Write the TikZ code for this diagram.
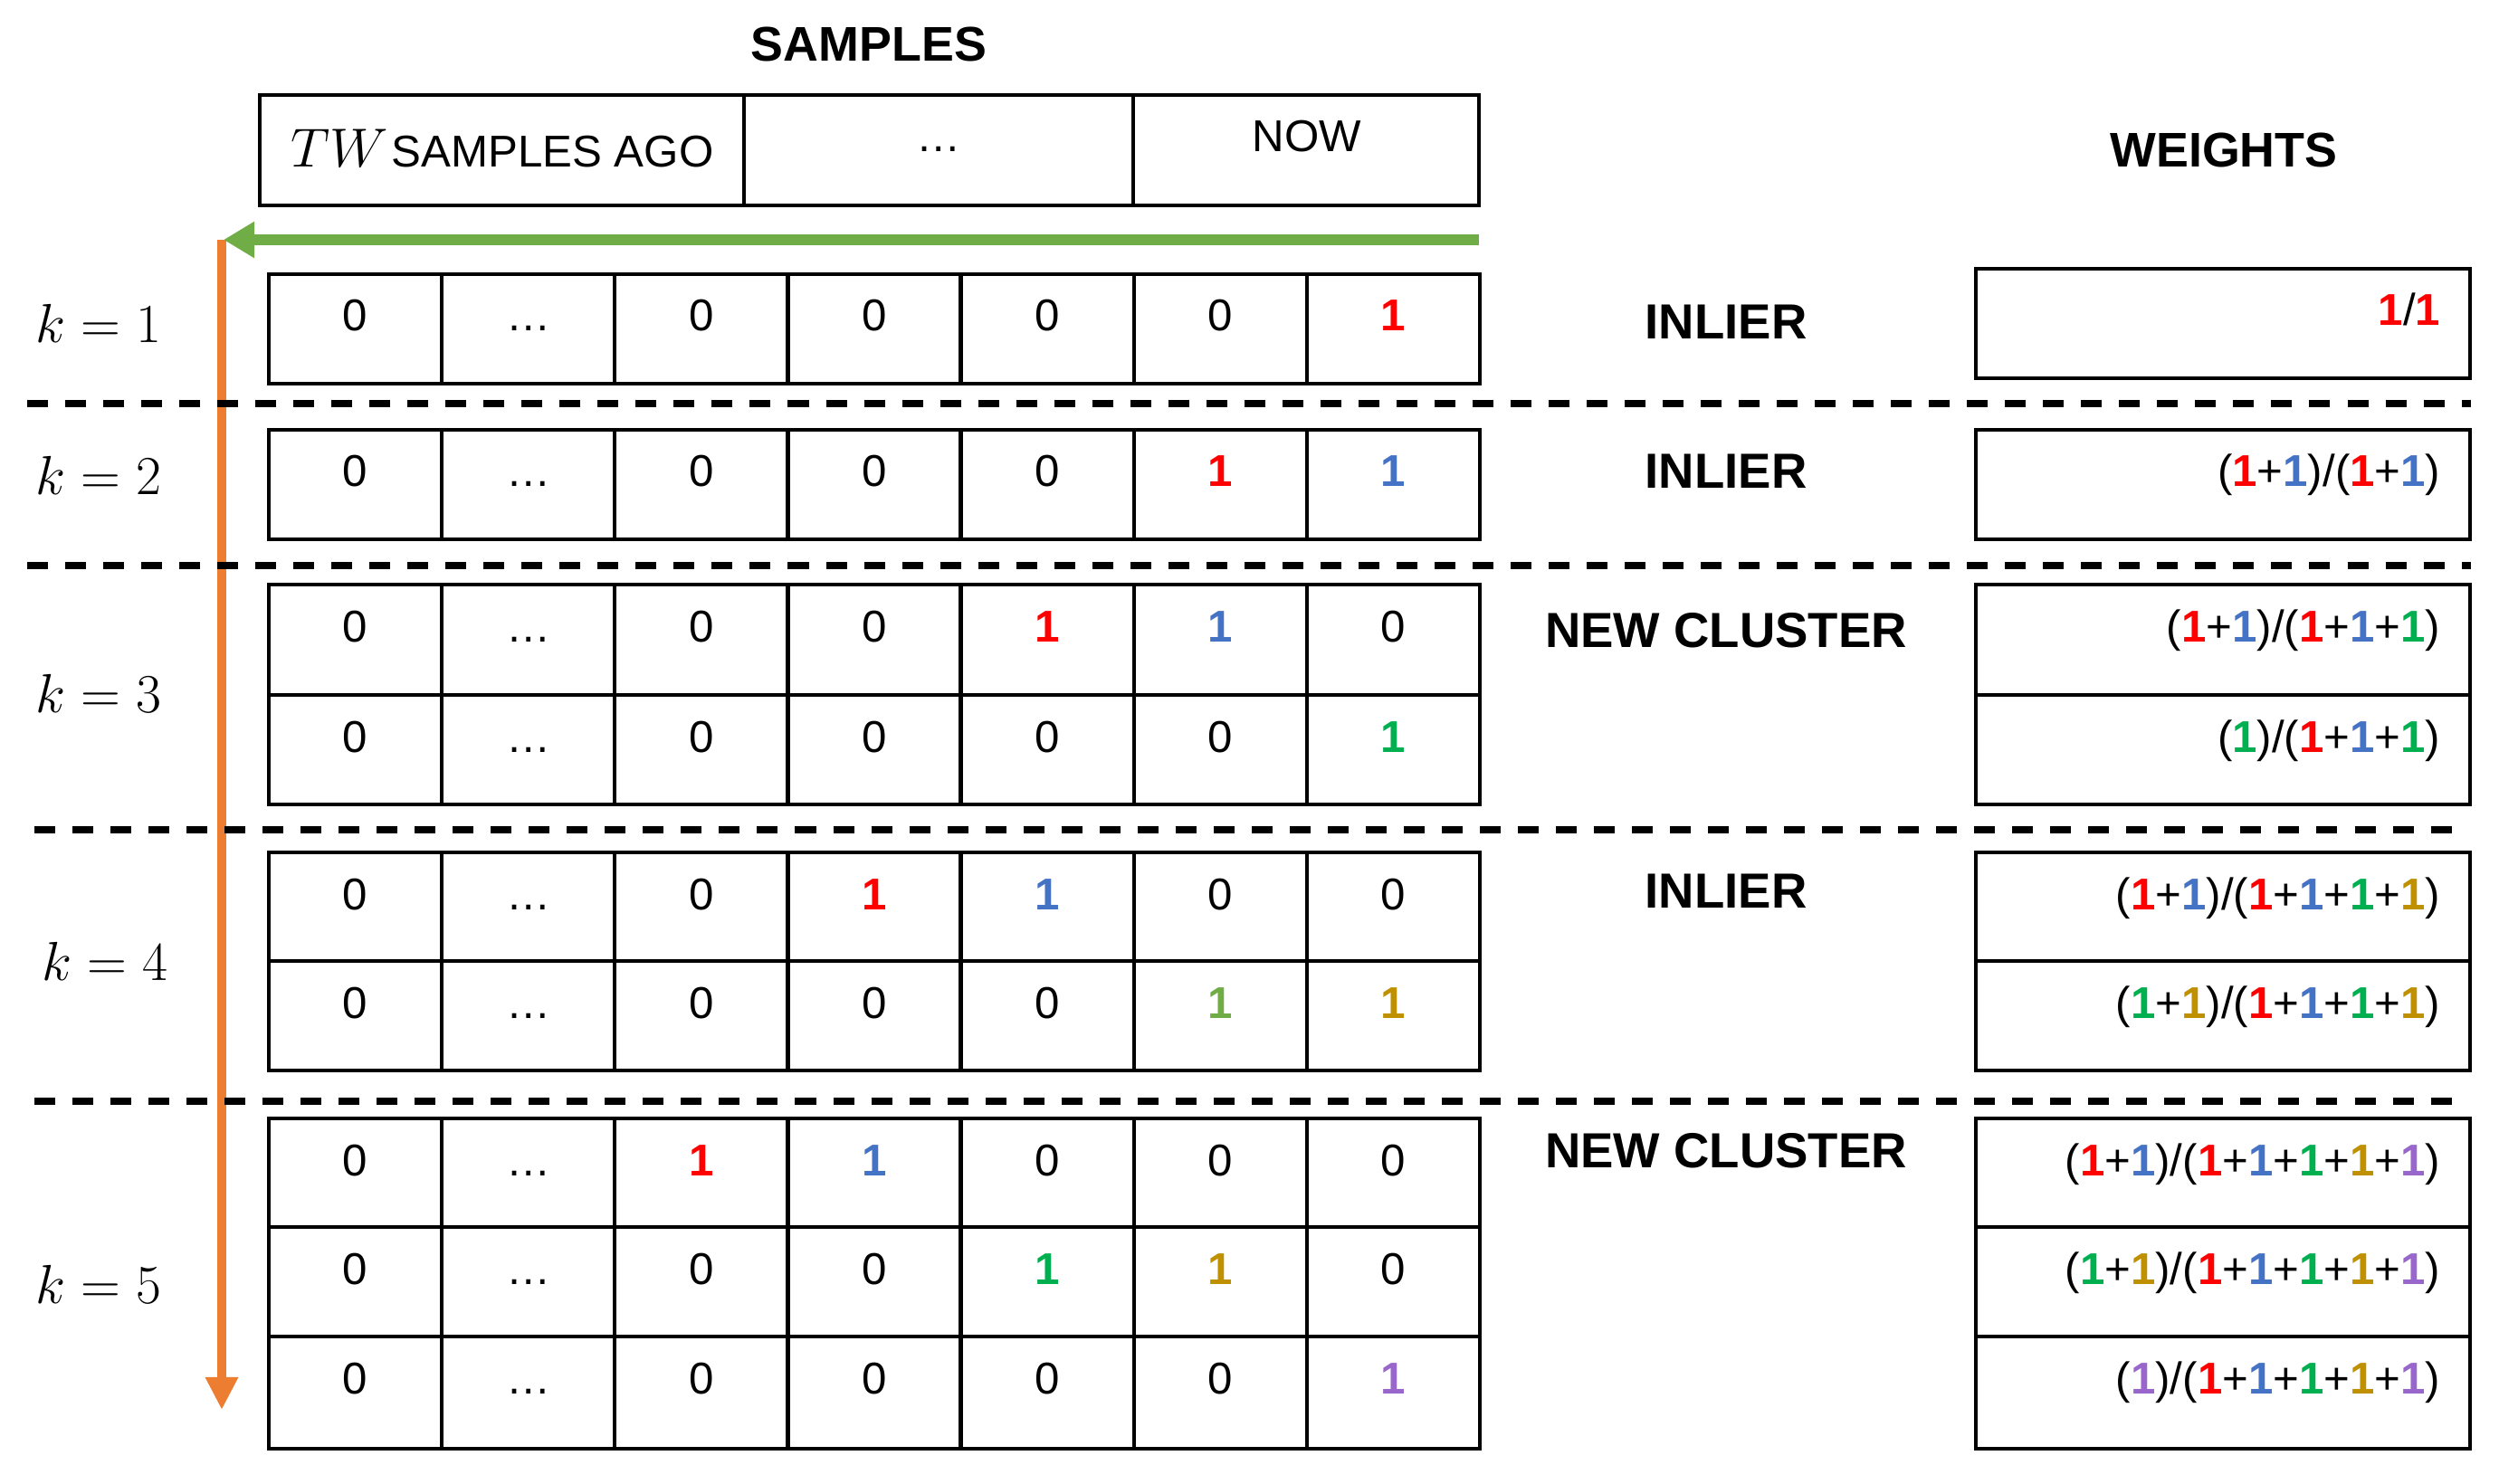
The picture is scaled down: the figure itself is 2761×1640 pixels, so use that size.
\documentclass[tikz,border=0pt]{standalone}
\usepackage[no-math]{fontspec}
\setmainfont{Liberation Sans}
\usetikzlibrary{arrows.meta}
\definecolor{cR}{HTML}{FF0000}
\definecolor{cB}{HTML}{4472C4}
\definecolor{cG}{HTML}{00B050}
\definecolor{cL}{HTML}{70AD47}
\definecolor{cY}{HTML}{BF9000}
\definecolor{cP}{HTML}{9966CC}
\definecolor{arrG}{HTML}{70AD47}
\definecolor{arrO}{HTML}{ED7D31}
\newcommand\oneR{\textcolor{cR}{\textbf{1}}}
\newcommand\oneB{\textcolor{cB}{\textbf{1}}}
\newcommand\oneG{\textcolor{cG}{\textbf{1}}}
\newcommand\oneL{\textcolor{cL}{\textbf{1}}}
\newcommand\oneY{\textcolor{cY}{\textbf{1}}}
\newcommand\oneP{\textcolor{cP}{\textbf{1}}}
\newcommand\dotsx{\ldots}
\newcommand\srow[4]{%
  \foreach \v [count=\i] in {#4} {
    \draw[box] ({297+191.14*(\i-1)},#2) rectangle ({297+191.14*\i},#3);
    \node[celltxt] (#1-\i) at ({297+191.14*(\i-0.5)},#2+63) {\v};
  }%
}
\newcommand\wrow[4]{%
  \draw[box] (2183,#2) rectangle (2729,#3);
  \node[wtxt] (#1) at (2697,#2+63) {#4};%
}
\begin{document}
\begin{tikzpicture}[x=0.01cm,y=-0.01cm,
  box/.style={draw=black, line width=1.2pt},
  celltxt/.style={anchor=base, inner sep=0pt, font=\fontsize{14}{16}\selectfont},
  wtxt/.style={anchor=base east, inner sep=0pt, font=\fontsize{14}{16}\selectfont},
  title/.style={inner sep=0pt, font=\fontsize{15.3}{18}\selectfont\bfseries},
  status/.style={inner sep=0pt, font=\fontsize{15.5}{18}\selectfont\bfseries},
  klabel/.style={inner sep=0pt, font=\fontsize{16}{18}\selectfont},
  sep/.style={draw=black, line width=2.1pt, dash pattern=on 0.23cm off 0.19cm},
  garrow/.style={draw=arrG, line width=0.12cm, -{Triangle[length=0.34cm,width=0.38cm]}},
  oarrow/.style={draw=arrO, line width=0.10cm, -{Triangle[length=0.36cm,width=0.34cm]}},
  ]
\useasboundingbox (0,0) rectangle (2761,1640);

% titles
\node[title] (samples) at (960,49) {SAMPLES};
\node[title] (weights) at (2457,166) {WEIGHTS};

% header box
\draw[box] (287,105) rectangle (1634,227);
\draw[box] (822,105) -- (822,227);
\draw[box] (1252,105) -- (1252,227);
\node[anchor=base, inner sep=0pt, font=\fontsize{14}{16}\selectfont] (ago) at (555,185) {{\fontsize{18.5}{20}\selectfont$TW$}\hspace{1pt}SAMPLES AGO};
\node[anchor=base, inner sep=0pt, font=\fontsize{14}{16}\selectfont] (hdots) at (1037,168) {\ldots};
\node[anchor=base, inner sep=0pt, font=\fontsize{14}{16}\selectfont] (now) at (1444,168) {NOW};

% arrows
\coordinate (gstart) at (1634,265);
\coordinate (gend) at (247,265);
\coordinate (ostart) at (245,265);
\coordinate (oend) at (245,1558);
\draw[oarrow] (ostart) -- (oend);
\draw[garrow] (gstart) -- (gend);

% k labels
\node[klabel] (k1) at (109,357) {$k=1$};
\node[klabel] (k2) at (109,525) {$k=2$};
\node[klabel] (k3) at (109,766) {$k=3$};
\node[klabel] (k4) at (116,1062) {$k=4$};
\node[klabel] (k5) at (109,1419) {$k=5$};

% sample rows
\srow{a1}{303}{424}{0,\dotsx,0,0,0,0,\oneR}
\srow{a2}{475}{596}{0,\dotsx,0,0,0,\oneR,\oneB}
\srow{a3}{646}{768}{0,\dotsx,0,0,\oneR,\oneB,0}
\srow{b3}{768}{889}{0,\dotsx,0,0,0,0,\oneG}
\srow{a4}{942}{1062}{0,\dotsx,0,\oneR,\oneB,0,0}
\srow{b4}{1062}{1183}{0,\dotsx,0,0,0,\oneL,\oneY}
\srow{a5}{1236}{1356}{0,\dotsx,\oneR,\oneB,0,0,0}
\srow{b5}{1356}{1477}{0,\dotsx,0,0,\oneG,\oneY,0}
\srow{c5}{1477}{1601}{0,\dotsx,0,0,0,0,\oneP}

% status labels
\node[status] (st1) at (1907,356) {INLIER};
\node[status] (st2) at (1907,521) {INLIER};
\node[status] (st3) at (1907,697) {NEW CLUSTER};
\node[status] (st4) at (1907,985) {INLIER};
\node[status] (st5) at (1907,1272) {NEW CLUSTER};

% weights
\wrow{w1}{297}{418}{\oneR/\oneR}
\wrow{w2}{475}{596}{(\oneR+\oneB)/(\oneR+\oneB)}
\wrow{w3a}{646}{768}{(\oneR+\oneB)/(\oneR+\oneB+\oneG)}
\wrow{w3b}{768}{889}{(\oneG)/(\oneR+\oneB+\oneG)}
\wrow{w4a}{942}{1062}{(\oneR+\oneB)/(\oneR+\oneB+\oneG+\oneY)}
\wrow{w4b}{1062}{1183}{(\oneG+\oneY)/(\oneR+\oneB+\oneG+\oneY)}
\wrow{w5a}{1236}{1356}{(\oneR+\oneB)/(\oneR+\oneB+\oneG+\oneY+\oneP)}
\wrow{w5b}{1356}{1477}{(\oneG+\oneY)/(\oneR+\oneB+\oneG+\oneY+\oneP)}
\wrow{w5c}{1477}{1601}{(\oneP)/(\oneR+\oneB+\oneG+\oneY+\oneP)}

% separators
\coordinate (d1l) at (30,446);  \coordinate (d1r) at (2730,446);
\coordinate (d2l) at (30,625);  \coordinate (d2r) at (2730,625);
\coordinate (d3l) at (38,917);  \coordinate (d3r) at (2722,917);
\coordinate (d4l) at (38,1217); \coordinate (d4r) at (2722,1217);
\draw[sep] (d1l) -- (d1r);
\draw[sep] (d2l) -- (d2r);
\draw[sep] (d3l) -- (d3r);
\draw[sep] (d4l) -- (d4r);
\end{tikzpicture}
\end{document}
